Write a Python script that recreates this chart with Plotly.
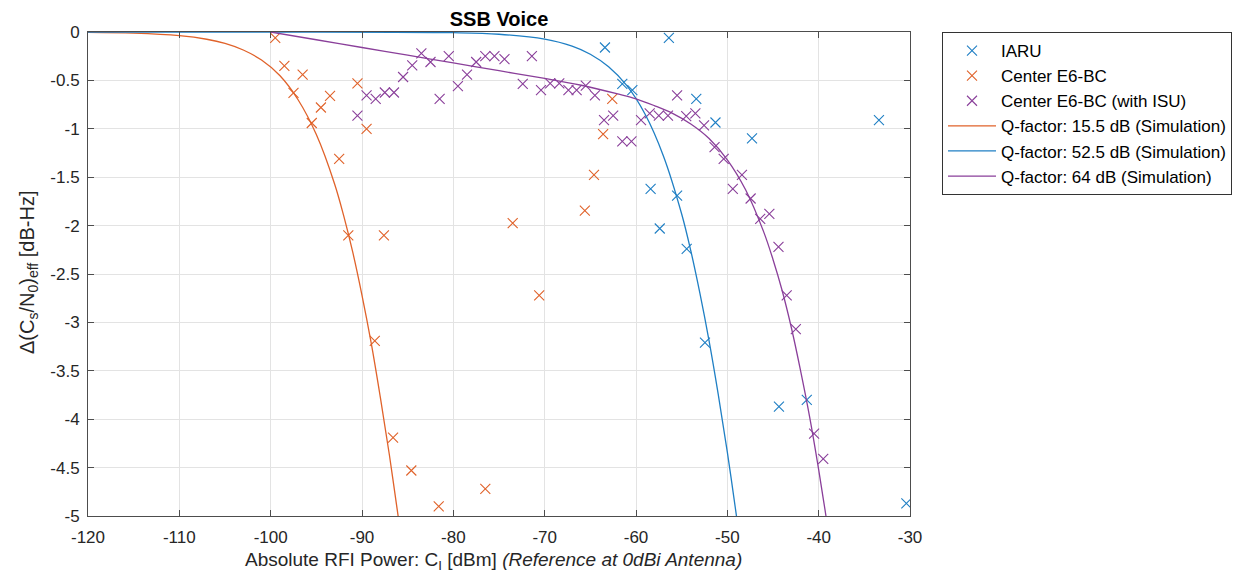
import plotly.graph_objects as go

# ---------------- data ----------------
iaru_x = [-63.4, -56.4, -61.5, -60.4, -53.4, -51.3, -47.3, -33.4, -58.4, -55.5,
          -57.4, -54.45, -52.45, -44.35, -41.3, -30.4]
iaru_y = [-0.16, -0.06, -0.535, -0.60, -0.69, -0.935, -1.10, -0.91, -1.62, -1.69,
          -2.03, -2.24, -3.21, -3.87, -3.80, -4.87]

e6_x = [-99.5, -98.5, -96.5, -97.5, -93.5, -94.5, -95.5, -92.5, -91.5, -90.5,
        -89.5, -87.6, -73.5, -65.6, -64.6, -63.6, -62.6, -70.6, -88.6, -86.6,
        -84.6, -76.5, -81.6]
e6_y = [-0.06, -0.35, -0.44, -0.63, -0.66, -0.78, -0.94, -1.31, -2.10, -0.53,
        -1.00, -2.10, -1.975, -1.845, -1.475, -1.055, -0.69, -2.72, -3.19, -4.19,
        -4.53, -4.72, -4.90]

isu_x = [-90.5, -89.5, -88.5, -87.5, -86.5, -85.5, -84.5, -83.5, -82.5, -81.5,
         -80.5, -79.5, -78.5, -77.5, -76.5, -75.5, -74.4, -72.4, -71.4, -70.4,
         -69.4, -68.4, -67.4, -66.5, -65.5, -64.5, -63.5, -62.5, -61.5, -60.5,
         -59.45, -58.5, -57.5, -56.5, -55.5, -54.5, -53.5, -52.55, -51.4, -50.4,
         -49.4, -48.4, -47.45, -46.4, -45.4, -44.4, -43.5, -42.5, -40.5, -39.5]
isu_y = [-0.865, -0.655, -0.69, -0.625, -0.625, -0.465, -0.345, -0.22, -0.31, -0.69,
         -0.25, -0.56, -0.44, -0.31, -0.25, -0.25, -0.28, -0.535, -0.25, -0.60,
         -0.53, -0.53, -0.60, -0.60, -0.555, -0.655, -0.91, -0.865, -1.13, -1.13,
         -0.91, -0.84, -0.865, -0.865, -0.655, -0.87, -0.84, -0.965, -1.19, -1.31,
         -1.62, -1.475, -1.72, -1.93, -1.88, -2.22, -2.72, -3.07, -4.15, -4.41]

q155_x = [-120, -115, -110, -107, -105, -103, -101, -99, -97, -95,
          -93, -92, -91, -90, -89, -88, -87, -86, -85.8]
q155_y = [-0.004, -0.012, -0.038, -0.075, -0.118, -0.186, -0.29, -0.45, -0.70, -1.06,
          -1.57, -1.90, -2.28, -2.72, -3.21, -3.77, -4.37, -5.03, -5.15]

q525_x = [-120, -100, -80, -75, -70, -67, -65, -63, -61, -59,
          -57, -55, -54, -53, -52, -51, -50, -49, -48.8]
q525_y = [0.0, 0.0, -0.007, -0.023, -0.074, -0.146, -0.23, -0.36, -0.555, -0.85,
          -1.28, -1.88, -2.26, -2.70, -3.19, -3.74, -4.34, -5.00, -5.14]

q64_x = [-100, -95, -90, -85, -80, -75, -70, -66, -62, -60,
         -58, -56, -54, -52, -50, -48, -46, -45, -44, -43,
         -42, -41, -40, -39.5, -39.2, -38.9]
q64_y = [0.0, -0.08, -0.16, -0.24, -0.32, -0.40, -0.48, -0.55, -0.64, -0.69,
         -0.76, -0.84, -0.95, -1.10, -1.32, -1.63, -2.07, -2.35, -2.67, -3.05,
         -3.49, -3.97, -4.52, -4.82, -5.00, -5.20]

x_ticks = [-120, -110, -100, -90, -80, -70, -60, -50, -40, -30]
x_ticktext = ["-120", "-110", "-100", "-90", "-80", "-70", "-60", "-50", "-40", "-30"]
y_ticks = [0, -0.5, -1, -1.5, -2, -2.5, -3, -3.5, -4, -4.5, -5]
y_ticktext = ["0", "-0.5", "-1", "-1.5", "-2", "-2.5", "-3", "-3.5", "-4", "-4.5", "-5"]

title_text = "<b>SSB Voice</b>"
x_title = "Absolute RFI Power: C<sub>I</sub> [dBm] <i>(Reference at 0dBi Antenna)</i>"
y_title = "Δ(C<sub>s</sub>/N<sub>0</sub>)<sub>eff</sub> [dB-Hz]"

# ---------------- styling ----------------
BLUE = "#1f7fc4"
ORANGE = "#e0622a"
PURPLE = "#8a3f9a"
FONT = "Liberation Sans, Arial, sans-serif"

fig = go.Figure()

def markers(x, y, name, color):
    fig.add_trace(go.Scatter(
        x=x, y=y, mode="markers", name=name,
        marker=dict(symbol="x-thin-open", size=10, color=color,
                    line=dict(color=color, width=1.1)),
        cliponaxis=True))

def curve(x, y, name, color):
    fig.add_trace(go.Scatter(
        x=x, y=y, mode="lines", name=name, line_shape="spline",
        line=dict(color=color, width=1.3)))

markers(iaru_x, iaru_y, "IARU", BLUE)
markers(e6_x, e6_y, "Center E6-BC", ORANGE)
markers(isu_x, isu_y, "Center E6-BC (with ISU)", PURPLE)
curve(q155_x, q155_y, "Q-factor: 15.5 dB (Simulation)", ORANGE)
curve(q525_x, q525_y, "Q-factor: 52.5 dB (Simulation)", BLUE)
curve(q64_x, q64_y, "Q-factor: 64 dB (Simulation)", PURPLE)

axis_common = dict(
    showline=True, linecolor="#4d4d4d", linewidth=1, mirror="ticks",
    ticks="inside", ticklen=6, tickcolor="#4d4d4d", automargin=False,
    showgrid=True, gridcolor="#e3e3e3", gridwidth=1, zeroline=False,
    tickfont=dict(family=FONT, size=17, color="#262626"),
)

# the page body adds an 8 px margin, so the figure is 16 px smaller than the window
W, H = 1226, 566
ML, MT, MR, MB = 80, 24, 324, 58
PW, PH = W - ML - MR, H - MT - MB

fig.update_layout(
    width=W, height=H,
    margin=dict(l=ML, r=MR, t=MT, b=MB, autoexpand=False),
    paper_bgcolor="white", plot_bgcolor="white",
    font=dict(family=FONT, size=17, color="#262626"),
    title=dict(text=title_text, x=(ML + PW / 2) / W, xanchor="center",
               y=1 - 11 / H, yanchor="middle", font=dict(family=FONT, size=20, color="#000")),
    showlegend=True,
    legend=dict(x=(942 - 8 - ML) / PW, y=1.0, xanchor="left", yanchor="top",
                bordercolor="#333333", borderwidth=1, bgcolor="white",
                font=dict(family=FONT, size=17, color="#000"),
                tracegroupgap=0, itemwidth=48),
    xaxis=dict(range=[-120, -30], tickvals=x_ticks, ticktext=x_ticktext,
               ticklabelstandoff=6, **axis_common),
    yaxis=dict(range=[-5, 0], tickvals=y_ticks, ticktext=y_ticktext,
               ticklabelstandoff=4, **axis_common),
    annotations=[
        dict(text=x_title, xref="paper", yref="paper",
             x=(485 - ML) / PW, y=-(553 - (MT + PH)) / PH,
             xanchor="center", yanchor="middle", showarrow=False,
             font=dict(family=FONT, size=19, color="#262626")),
        dict(text=y_title, xref="paper", yref="paper", textangle=-90,
             x=(20 - ML) / PW, y=1 - (264 - MT) / PH,
             xanchor="center", yanchor="middle", showarrow=False,
             font=dict(family=FONT, size=20, color="#262626")),
    ],
)

fig.write_html("out.html")
